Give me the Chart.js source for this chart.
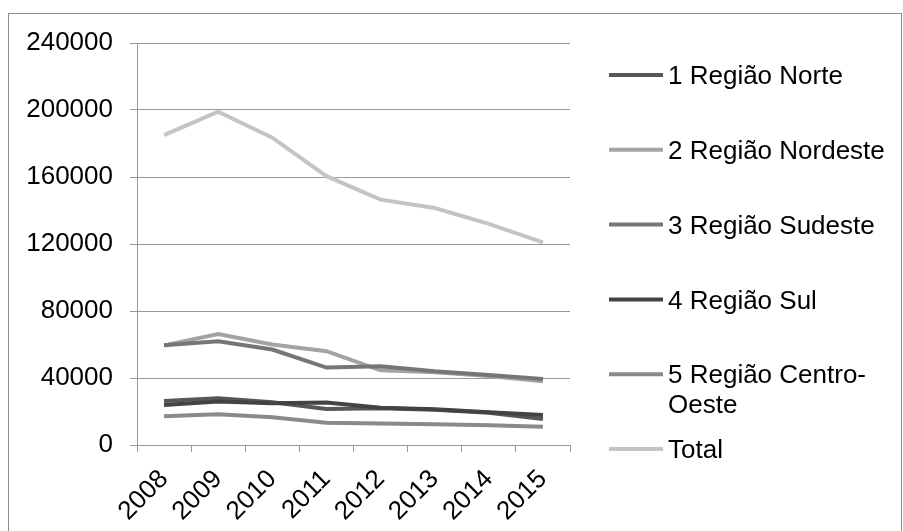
<!DOCTYPE html>
<html>
<head>
<meta charset="utf-8">
<script src="https://cdn.jsdelivr.net/npm/chart.js@4/dist/chart.umd.min.js"></script>
<style>
  body { margin: 0; background: #fff; }
  canvas { display: block; }
</style>
</head>
<body>
<canvas id="chart" width="903" height="531"></canvas>
<script>
// values
const years = ['2008', '2009', '2010', '2011', '2012', '2013', '2014', '2015'];
const norte = [26300, 27900, 25500, 21500, 22000, 21000, 19300, 15500];
const nordeste = [59500, 66300, 60000, 56000, 44600, 43500, 41200, 38000];
const sudeste = [59500, 62000, 57000, 46200, 47000, 44000, 41800, 39400];
const sul = [23900, 25900, 25000, 25300, 22300, 21300, 19500, 17900];
const centroOeste = [17100, 18300, 16500, 13300, 12900, 12400, 11800, 10900];
const total = [185000, 199000, 183500, 160500, 146500, 141500, 132000, 121000];
const yTicks = [0, 40000, 80000, 120000, 160000, 200000, 240000];

const seriesNames = ['1 Região Norte', '2 Região Nordeste', '3 Região Sudeste', '4 Região Sul', '5 Região Centro-Oeste', 'Total'];
const seriesData = [norte, nordeste, sudeste, sul, centroOeste, total];
const seriesColors = ['#575757', '#a3a3a3', '#767676', '#434343', '#8a8a8a', '#c4c4c4'];

const FONT = '"Liberation Sans", Arial, sans-serif';

// split a legend label at spaces/hyphens when it gets too wide
function wrapText(ctx, text, maxW) {
    let parts = text.match(/[^ -]+-?| /g);
    let lines = [];
    let cur = '';
    for (let p of parts) {
        let test = cur + p;
        if (ctx.measureText(test.trim()).width > maxW && cur.trim() != '') {
            lines.push(cur.trim());
            cur = p == ' ' ? '' : p;
        } else {
            cur = test;
        }
    }
    if (cur.trim() != '') lines.push(cur.trim());
    return lines;
}

const sideLegend = {
    id: 'sideLegend',
    afterDraw(chart) {
        let ctx = chart.ctx;
        ctx.save();
        // outer frame
        ctx.strokeStyle = '#8c8c8c';
        ctx.lineWidth = 1;
        ctx.strokeRect(8.5, 13.5, 893, 540);

        ctx.font = '26px ' + FONT;
        ctx.textBaseline = 'middle';
        ctx.fillStyle = '#000';
        chart.data.datasets.forEach((ds, i) => {
            let y = 75 + i * 74.8;
            ctx.strokeStyle = ds.borderColor;
            ctx.lineWidth = 4;
            ctx.beginPath();
            ctx.moveTo(609, y);
            ctx.lineTo(663, y);
            ctx.stroke();
            let lines = wrapText(ctx, ds.label, 225);
            lines.forEach((ln, k) => {
                ctx.fillText(ln, 668, y + 2 + k * 30);
            });
        });
        ctx.restore();
    }
};

let datasets = seriesNames.map((name, i) => ({
    label: name,
    data: seriesData[i],
    borderColor: seriesColors[i],
    backgroundColor: seriesColors[i],
    borderWidth: 4,
    pointRadius: 0,
    tension: 0,
    fill: false,
    order: seriesNames.length - i
}));

new Chart('chart', {
    type: 'line',
    data: { labels: years, datasets: datasets },
    options: {
        responsive: false,
        animation: false,
        devicePixelRatio: 1,
        layout: { padding: { left: 0, top: 43, right: 333, bottom: 0 } },
        plugins: {
            legend: { display: false },
            tooltip: { enabled: false }
        },
        scales: {
            x: {
                offset: true,
                grid: { drawOnChartArea: false, drawTicks: true, tickLength: 7, color: '#999', offset: true },
                border: { color: '#999', width: 1 },
                ticks: {
                    font: { family: FONT, size: 26 },
                    color: '#000',
                    minRotation: 45,
                    maxRotation: 45,
                    padding: 12
                },
                afterFit(scale) { scale.height = 86; }
            },
            y: {
                min: 0,
                max: 240000,
                afterBuildTicks(scale) { scale.ticks = yTicks.map(v => ({ value: v })); },
                grid: { color: '#999', tickLength: 7 },
                border: { color: '#999', width: 1 },
                ticks: {
                    font: { family: FONT, size: 26 },
                    color: '#000',
                    padding: 17,
                    callback: v => String(v)
                },
                afterFit(scale) { scale.width = 137; }
            }
        }
    },
    plugins: [sideLegend]
});
</script>
</body>
</html>
